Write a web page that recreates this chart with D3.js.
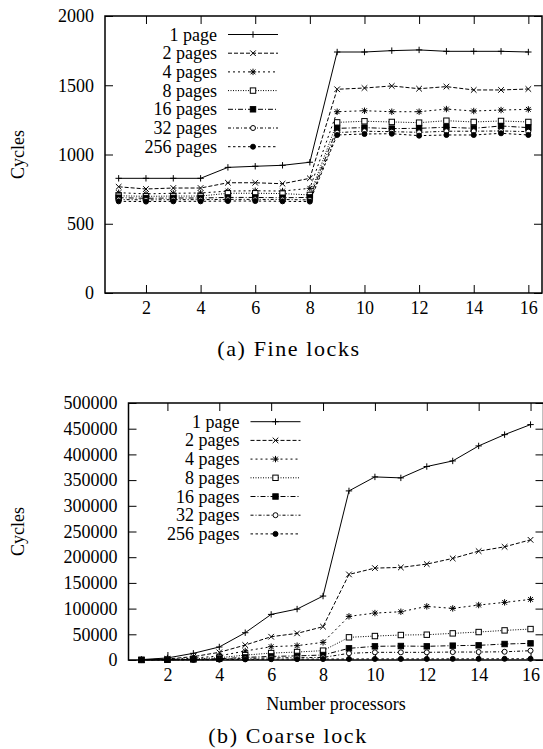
<!DOCTYPE html>
<html lang="en">
<head>
  <meta charset="UTF-8">
  <title>Cycles vs processors</title>
  <script src="https://d3js.org/d3.v7.min.js"></script>
  <style>
    body { margin: 0; background: #fff; }
    svg text { font-family: "Liberation Serif", "Times New Roman", Times, "DejaVu Serif", serif; }
    .domain { display: none; }
    .tick line { stroke: #000; stroke-width: 1; }
  </style>
</head>
<body>
  <svg width="543" height="749"></svg>
  <script>
    const procs = d3.range(1, 17);
    const seriesNames = ["1 page", "2 pages", "4 pages", "8 pages", "16 pages", "32 pages", "256 pages"];

    // (a) fine locks
    const fine1   = [828, 828, 828, 828, 907, 915, 922, 944, 1740, 1740, 1750, 1755, 1745, 1745, 1745, 1740];
    const fine2   = [767, 751, 758, 758, 796, 796, 789, 828, 1471, 1480, 1495, 1475, 1490, 1466, 1466, 1473];
    const fine4   = [724, 716, 720, 722, 736, 738, 736, 756, 1309, 1316, 1309, 1309, 1328, 1314, 1321, 1326];
    const fine8   = [702, 698, 700, 700, 720, 720, 718, 708, 1232, 1240, 1235, 1230, 1244, 1235, 1242, 1235];
    const fine16  = [688, 684, 686, 686, 690, 690, 688, 690, 1189, 1194, 1187, 1189, 1197, 1189, 1206, 1194];
    const fine32  = [675, 672, 674, 674, 676, 676, 675, 672, 1158, 1168, 1165, 1160, 1168, 1168, 1170, 1165];
    const fine256 = [662, 660, 662, 662, 664, 664, 662, 660, 1141, 1148, 1150, 1136, 1141, 1141, 1153, 1141];

    // (b) coarse lock
    const coarse1   = [800, 4000, 13000, 25300, 53100, 88700, 99100, 124400, 329000, 356200, 354300, 376400, 387300, 416500, 438500, 458000];
    const coarse2   = [400, 2000, 6500, 14900, 29100, 45300, 51800, 64800, 166500, 178800, 180100, 186600, 197600, 211800, 220200, 233800];
    const coarse4   = [300, 1200, 3500, 8000, 17500, 25900, 27900, 34300, 84900, 91300, 93900, 104300, 100400, 106900, 112100, 117900];
    const coarse8   = [200, 800, 2000, 4500, 9500, 13500, 15500, 18200, 44100, 46600, 48600, 49200, 51800, 54400, 57600, 60200];
    const coarse16  = [150, 500, 1200, 2500, 5000, 7000, 8000, 9700, 22700, 26600, 27200, 26600, 27900, 28500, 31100, 32400];
    const coarse32  = [100, 300, 700, 1500, 3000, 4000, 4500, 5000, 13000, 14900, 14900, 14900, 15500, 15500, 16000, 18100];
    const coarse256 = [50, 150, 400, 700, 1200, 1500, 1700, 1800, 2000, 2100, 2100, 2100, 2200, 2200, 2300, 2400];

    const xTicks = [2, 4, 6, 8, 10, 12, 14, 16];
    const fineYTicks = [0, 500, 1000, 1500, 2000];
    const coarseYTicks = d3.range(0, 500001, 50000);

    const dashes = [null, "4,2", "2,3", "1,1.5", "5,2,1,2", "3,2,1,2", "2.5,2.5"];
    const markers = ["plus", "cross", "star", "box", "fbox", "circle", "fcircle"];
    const FONT = "Liberation Serif, Times New Roman, Times, DejaVu Serif, serif";

    const svg = d3.select("svg");

    function marker(g, type, cx, cy) {
      const s = 3.2;
      if (type === "plus" || type === "star") {
        g.append("path").attr("d", `M${cx - s},${cy}H${cx + s}M${cx},${cy - s}V${cy + s}`)
          .attr("stroke", "#000").attr("stroke-width", 1);
      }
      if (type === "cross" || type === "star") {
        const t = type === "star" ? 2.4 : 2.8;
        g.append("path").attr("d", `M${cx - t},${cy - t}L${cx + t},${cy + t}M${cx - t},${cy + t}L${cx + t},${cy - t}`)
          .attr("stroke", "#000").attr("stroke-width", 1);
      }
      if (type === "box" || type === "fbox") {
        g.append("rect").attr("x", cx - 2.7).attr("y", cy - 2.7).attr("width", 5.4).attr("height", 5.4)
          .attr("fill", type === "fbox" ? "#000" : "#fff").attr("stroke", "#000").attr("stroke-width", 1);
      }
      if (type === "circle" || type === "fcircle") {
        g.append("circle").attr("cx", cx).attr("cy", cy).attr("r", 2.5)
          .attr("fill", type === "fcircle" ? "#000" : "#fff").attr("stroke", "#000").attr("stroke-width", 1);
      }
    }

    function drawPanel(opt) {
      const x = d3.scaleLinear().domain([0.5, 16.5]).range([opt.left, opt.right]);
      const y = d3.scaleLinear().domain(opt.yDomain).range([opt.bottom, opt.top]);
      const g = svg.append("g");

      g.append("g").attr("transform", `translate(0,${opt.bottom})`)
        .call(d3.axisBottom(x).tickValues(xTicks).tickSize(-8).tickPadding(8));
      g.append("g").attr("transform", `translate(0,${opt.top})`)
        .call(d3.axisTop(x).tickValues(xTicks).tickSize(-8).tickFormat(""));
      g.append("g").attr("transform", `translate(${opt.left},0)`)
        .call(d3.axisLeft(y).tickValues(opt.yTicks).tickSize(-8).tickPadding(11).tickFormat(d3.format("d")));
      g.append("g").attr("transform", `translate(${opt.right},0)`)
        .call(d3.axisRight(y).tickValues(opt.yTicks).tickSize(-8).tickFormat(""));
      g.selectAll("g").attr("font-family", FONT).attr("font-size", 18);
      g.selectAll(".tick text").attr("fill", "#000");

      const line = d3.line().x((d, i) => x(procs[i])).y(d => y(d));
      opt.series.forEach((vals, k) => {
        g.append("path").datum(vals)
          .attr("fill", "none").attr("stroke", "#000").attr("stroke-width", 1)
          .attr("stroke-dasharray", dashes[k])
          .attr("d", line);
        const mg = g.append("g");
        vals.forEach((v, i) => marker(mg, markers[k], x(procs[i]), y(v)));
      });

      // legend
      seriesNames.forEach((name, k) => {
        const ly = opt.legendY + k * 18.7;
        g.append("text").attr("x", opt.legendX).attr("y", ly + 6)
          .attr("text-anchor", "end").attr("font-family", FONT).attr("font-size", 18).text(name);
        g.append("line").attr("x1", opt.legendX + 11).attr("x2", opt.legendX + 61)
          .attr("y1", ly).attr("y2", ly)
          .attr("stroke", "#000").attr("stroke-width", 1).attr("stroke-dasharray", dashes[k]);
        marker(g, markers[k], opt.legendX + 36, ly);
      });

      g.append("rect").attr("x", opt.left).attr("y", opt.top)
        .attr("width", opt.right - opt.left).attr("height", opt.bottom - opt.top)
        .attr("fill", "none").attr("stroke", "#000").attr("stroke-width", 1.5);

      g.append("text")
        .attr("transform", `translate(${opt.yLabelX},${(opt.top + opt.bottom) / 2}) rotate(-90)`)
        .attr("text-anchor", "middle").attr("dy", "0.35em")
        .attr("font-family", FONT).attr("font-size", 18).text("Cycles");
    }

    drawPanel({
      left: 105, right: 542, top: 16, bottom: 293,
      yDomain: [0, 2000], yTicks: fineYTicks,
      series: [fine1, fine2, fine4, fine8, fine16, fine32, fine256],
      legendX: 217, legendY: 34.5, yLabelX: 18
    });

    drawPanel({
      left: 128.5, right: 543.5, top: 403, bottom: 660,
      yDomain: [0, 500000], yTicks: coarseYTicks,
      series: [coarse1, coarse2, coarse4, coarse8, coarse16, coarse32, coarse256],
      legendX: 239.5, legendY: 421.7, yLabelX: 18
    });

    svg.append("text").attr("x", 336).attr("y", 710).attr("text-anchor", "middle")
      .attr("font-family", FONT).attr("font-size", 18).text("Number processors");

    // captions: the original uses a wider TeX font, so widen a little
    svg.append("text").attr("x", 289).attr("y", 356).attr("text-anchor", "middle")
      .attr("font-family", FONT).attr("font-size", 22).attr("letter-spacing", 1.6)
      .text("(a) Fine locks");
    svg.append("text").attr("x", 288).attr("y", 743).attr("text-anchor", "middle")
      .attr("font-family", FONT).attr("font-size", 22).attr("letter-spacing", 1.6)
      .text("(b) Coarse lock");
  </script>
</body>
</html>
